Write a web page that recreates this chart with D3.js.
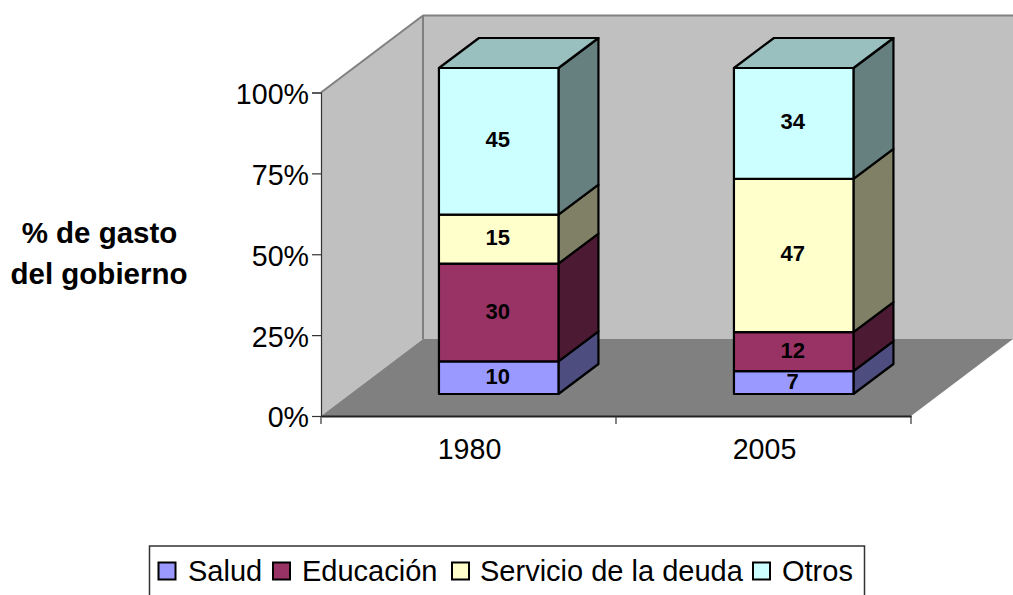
<!DOCTYPE html>
<html><head><meta charset="utf-8">
<script src="https://cdn.jsdelivr.net/npm/d3@7"></script>
<style>html,body{margin:0;padding:0;background:#fff}svg{display:block;font-family:"Liberation Sans",Arial,sans-serif}</style>
</head><body><svg id="c" width="1013" height="595"></svg>
<script>
const years = ["1980","2005"];
const seriesNames = ["Salud","Educación","Servicio de la deuda","Otros"];
const salud = [10,7];
const educacion = [30,12];
const servicio = [15,47];
const otros = [45,34];
const axisTicks = [0,25,50,75,100];
const faceColors = ["#9999FF","#993366","#FFFFCC","#CCFFFF"];
const sideColors = ["#4D4D80","#4D1A33","#808066","#668080"];
const topColors = ["#7373BF","#73264D","#BFBF99","#99BFBF"];

const svg = d3.select("#c");
const valueRows = [salud,educacion,servicio,otros];
const x = d3.scaleBand().domain(years).range([321,911]);
const y = d3.scaleLinear().domain([0,100]).range([416,92.5]);
const barY = d3.scaleLinear().domain([0,100]).range([394,68]);
const floorD = {dx:102,dy:-77};
const barOff = 30.2;
const barW = 119.5;
const barD = {dx:40,dy:-30};

const poly=(pts,fill,stroke,sw)=>svg.append("polygon").attr("points",pts.map(p=>p.join(",")).join(" "))
  .attr("fill",fill).attr("stroke",stroke||"none").attr("stroke-width",sw||0).attr("stroke-linejoin","round");
const x0=x.range()[0], x1=x.range()[1], y0=y(0), yT=y(100);
poly([[x0+floorD.dx,y0+floorD.dy],[x1+floorD.dx,y0+floorD.dy],[x1+floorD.dx,yT+floorD.dy],[x0+floorD.dx,yT+floorD.dy]],"#C0C0C0");
poly([[x0,y0],[x0+floorD.dx,y0+floorD.dy],[x0+floorD.dx,yT+floorD.dy],[x0,yT]],"#C0C0C0");
poly([[x0,y0],[x1,y0],[x1+floorD.dx,y0+floorD.dy],[x0+floorD.dx,y0+floorD.dy]],"#808080");
const gray=(a,b)=>svg.append("line").attr("x1",a[0]).attr("y1",a[1]).attr("x2",b[0]).attr("y2",b[1]).attr("stroke","#808080").attr("stroke-width",2);
gray([x0,yT],[x0+floorD.dx,yT+floorD.dy]);
gray([x0+floorD.dx,yT+floorD.dy],[x1+floorD.dx,yT+floorD.dy]);
gray([x0+floorD.dx,yT+floorD.dy],[x0+floorD.dx,y0+floorD.dy]);

const axL = svg.append("g").attr("transform",`translate(${x0},0)`)
  .call(d3.axisLeft(y).tickValues(axisTicks).tickSize(9).tickPadding(3).tickFormat(d=>d+"%"));
const axB = svg.append("g").attr("transform",`translate(0,${y0})`)
  .call(d3.axisBottom(x).tickSize(0).tickFormat(""));
axB.selectAll("line.edge").data([x0,x0+x.bandwidth(),x1]).join("line").attr("class","edge")
  .attr("x1",d=>d).attr("x2",d=>d).attr("y1",0).attr("y2",8);
[axL,axB].forEach(a=>a.selectAll("path,line").attr("stroke","#333").attr("stroke-width",1.2));
axL.selectAll("text").attr("font-size",28.6).attr("fill","#000").attr("font-family","Liberation Sans").attr("dy","0.38em");
axB.select(".domain").attr("stroke","#222").attr("stroke-width",2);
svg.selectAll("text.cat").data(years).join("text").attr("class","cat")
  .attr("x",d=>x(d)+x.bandwidth()/2+1).attr("y",459).attr("text-anchor","middle").attr("font-size",28.6).text(d=>d);

years.forEach((yr,i)=>{
  const L = x(yr)+x.bandwidth()/2+barOff-barW/2, R = L+barW;
  let cum=0;
  valueRows.forEach((row,s)=>{
    const v=row[i], b=barY(cum), t=barY(cum+v);
    poly([[R,b],[R+barD.dx,b+barD.dy],[R+barD.dx,t+barD.dy],[R,t]],sideColors[s],"#000",2.2);
    poly([[L,b],[R,b],[R,t],[L,t]],faceColors[s],"#000",2.2);
    if(s===valueRows.length-1) poly([[L,t],[R,t],[R+barD.dx,t+barD.dy],[L+barD.dx,t+barD.dy]],topColors[s],"#000",2.2);
    svg.append("text").attr("x",(L+R)/2-1).attr("y",(b+t)/2+6).attr("text-anchor","middle")
      .attr("font-size",22).attr("font-weight","bold").text(v);
    cum+=v;
  });
});

svg.append("text").attr("x",99.5).attr("y",243).attr("text-anchor","middle").attr("font-size",29.5).attr("font-weight","bold").text("% de gasto");
svg.append("text").attr("x",99).attr("y",284).attr("text-anchor","middle").attr("font-size",29.5).attr("font-weight","bold").text("del gobierno");

svg.append("rect").attr("x",149.5).attr("y",546).attr("width",715).attr("height",60).attr("fill","#fff").attr("stroke","#333").attr("stroke-width",1.5);
const legX=[158.5,273,452,753], legT=[188,302,480,782];
seriesNames.forEach((n,i)=>{
  svg.append("rect").attr("x",legX[i]).attr("y",562.5).attr("width",17).attr("height",17).attr("fill",faceColors[i]).attr("stroke","#000").attr("stroke-width",2);
  svg.append("text").attr("x",legT[i]).attr("y",581).attr("font-size",29).text(n);
});
</script></body></html>
